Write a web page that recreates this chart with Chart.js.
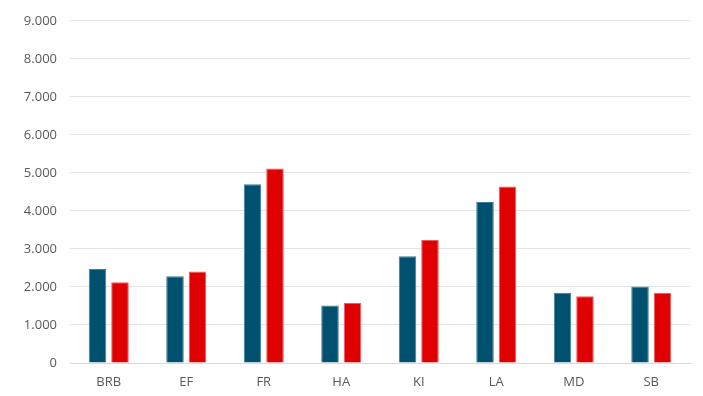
<!DOCTYPE html>
<html><head><meta charset="utf-8">
<script src="https://cdn.jsdelivr.net/npm/chart.js@4"></script>
<style>html,body{margin:0;padding:0;background:#fff;}#wrap{width:703px;height:396px;}</style>
</head><body><div id="wrap"><canvas id="c" width="703" height="396"></canvas></div>
<script>
const categories = ["BRB","EF","FR","HA","KI","LA","MD","SB"];
const seriesA = [2470, 2280, 4700, 1515, 2805, 4235, 1850, 2015];
const seriesB = [2125, 2405, 5115, 1580, 3235, 4640, 1755, 1850];
const yTicks = [0,1000,2000,3000,4000,5000,6000,7000,8000,9000];

const fmt = v => v === 0 ? "0" : v.toLocaleString("de-DE");

new Chart(document.getElementById("c"), {
  type: "bar",
  data: {
    labels: categories,
    datasets: [
      {label:"A", data: seriesA, backgroundColor:"#00506F", borderColor:"#3f7c96", borderWidth:1, categoryPercentage:0.58, barPercentage:0.78},
      {label:"B", data: seriesB, backgroundColor:"#E00000", borderColor:"#ee5a5a", borderWidth:1, categoryPercentage:0.58, barPercentage:0.78}
    ]
  },
  options: {
    responsive:false, animation:false,
    devicePixelRatio:1,
    layout:{padding:{top:17,right:13,left:0,bottom:0}},
    plugins:{legend:{display:false}, tooltip:{enabled:false}},
    scales:{
      x:{
        afterFit: ax => { ax.height = 33; },
        grid:{display:false, drawTicks:false},
        border:{display:true, color:"#d9d9d9"},
        ticks:{color:"#595959", font:{family:"Open Sans", size:13}, padding:11}
      },
      y:{
        min:0, max:9000,
        afterBuildTicks: ax => { ax.ticks = yTicks.map(v=>({value:v})); },
        afterFit: ax => { ax.width = 70; },
        grid:{color:"#e3e3e3", drawTicks:false},
        border:{display:false},
        ticks:{color:"#595959", font:{family:"Open Sans", size:13}, padding:13, callback: v => fmt(v)}
      }
    }
  }
});
</script></body></html>
